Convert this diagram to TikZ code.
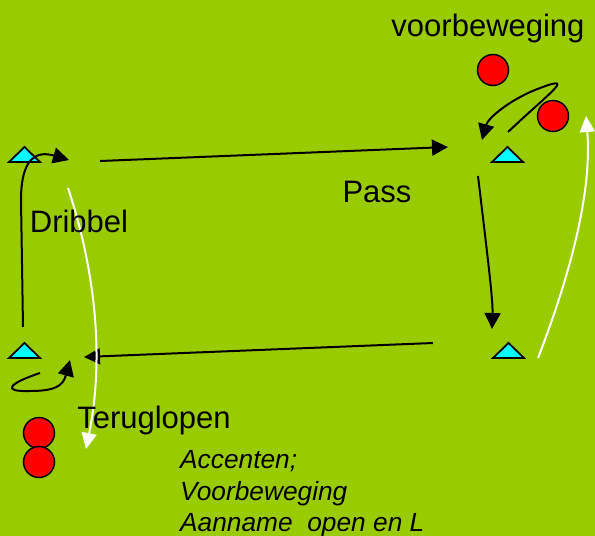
\documentclass[tikz,border=0pt]{standalone}
\usepackage{fontspec}
\setmainfont{Liberation Sans}
\usetikzlibrary{arrows.meta}
\definecolor{field}{HTML}{99CC00}
\definecolor{cone}{HTML}{00FFFF}
\definecolor{ballred}{HTML}{FF0000}
\tikzset{
  lbl/.style={inner sep=0pt, anchor=base, font=\fontsize{31}{36}\selectfont},
  note/.style={inner sep=0pt, anchor=base west, font=\fontsize{26.3}{30}\selectfont\itshape},
  ball/.style={circle, draw=black, line width=1.5pt, fill=ballred, minimum size=31pt, inner sep=0pt},
  conefill/.style={draw=black, line width=1.8pt, fill=cone, line join=miter},
  blk/.style={draw=black, line width=2pt, -{Triangle[length=16pt,width=16pt]}},
  wht/.style={draw=white, line width=2pt, -{Triangle[length=16pt,width=15pt]}},
}
\begin{document}
\begin{tikzpicture}[x=1pt,y=-1pt]
\fill[field] (0,0) rectangle (595,536);
\useasboundingbox (0,0) rectangle (595,536);

% cones
\path[conefill] (9,162) -- (24.5,147) -- (40,162) -- cycle;
\path[conefill] (492,162) -- (507.5,147) -- (523,162) -- cycle;
\path[conefill] (9,358) -- (24.5,343) -- (40,358) -- cycle;
\path[conefill] (493,358) -- (508.5,343) -- (524,358) -- cycle;

% balls
\node[ball] (b1) at (493,70) {};
\node[ball] (b2) at (553,116) {};
\node[ball] (b3) at (39,433) {};
\node[ball] (b4) at (39,462) {};

% coordinates
\coordinate (p1s) at (100,161);
\coordinate (p1e) at (448,147);
\coordinate (d1s) at (23,327);
\coordinate (d1m) at (21,200);
\coordinate (d1e) at (69,160);
\coordinate (p2s) at (433,343);
\coordinate (p2e) at (84,357);
\coordinate (r1s) at (478,176);
\coordinate (r1e) at (492,329);
\coordinate (v1s) at (508,132);
\coordinate (v1m) at (535,90);
\coordinate (v1e) at (482,140);
\coordinate (l1s) at (40,373);
\coordinate (l1m) at (30,391);
\coordinate (l1e) at (70,360);
\coordinate (w1s) at (68,188);
\coordinate (w1e) at (86,449);
\coordinate (w2s) at (538,358);
\coordinate (w2e) at (586,116);

% black arrows
\draw[blk] (p1s) -- (p1e);
\draw[blk] (d1s) -- (d1m) .. controls (21,160) and (35,150) .. (d1e);
\draw[blk] (p2s) -- (p2e);
\draw[blk] (r1s) .. controls (488,260) and (493,300) .. (r1e);
\draw[blk] (v1s) .. controls (550,92) and (580,72) .. (v1m) .. controls (510,100) and (488,118) .. (v1e);
\draw[blk] (l1s) .. controls (10,383) and (0,392) .. (l1m) .. controls (55,391) and (63,386) .. (l1e);

% white arrows
\draw[wht] (w1s) .. controls (92,260) and (106,350) .. (w1e);
\draw[wht] (w2s) .. controls (572,270) and (592,190) .. (w2e);

% labels
\node[lbl] (tv) at (488,36) {voorbeweging};
\node[lbl] (tp) at (377,202) {Pass};
\node[lbl] (td) at (79,232) {Dribbel};
\node[lbl] (tt) at (154,428) {Teruglopen};
\node[note] (n1) at (180,468) {Accenten;};
\node[note] (n2) at (180,500) {Voorbeweging};
\node[note] (n3) at (180,531) {Aanname\ \ open en L};
\end{tikzpicture}
\end{document}
